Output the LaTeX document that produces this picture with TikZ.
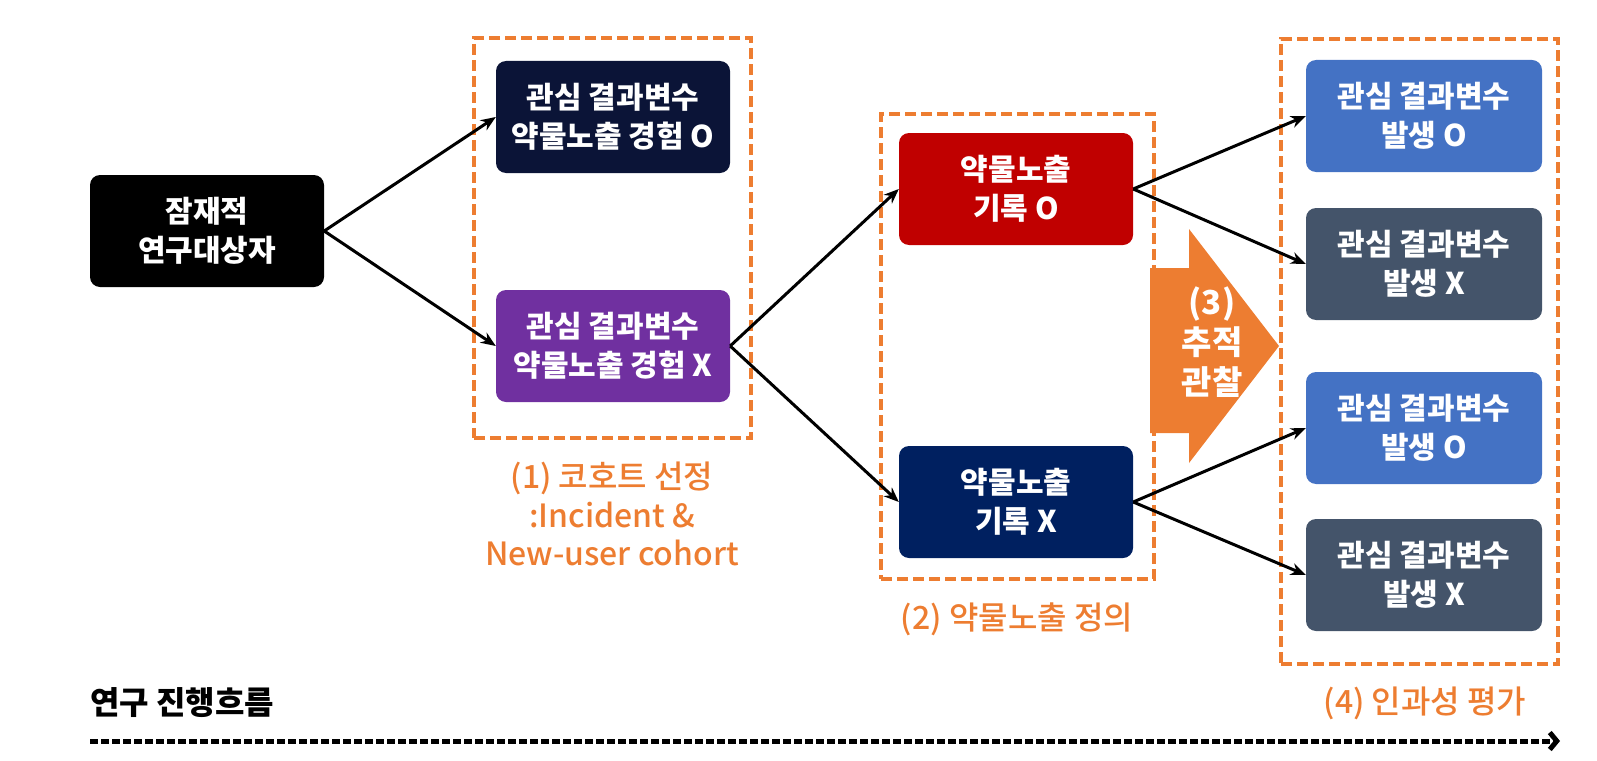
\documentclass[tikz,border=0pt]{standalone}
\usepackage{fontspec}
\setmainfont{Noto Sans CJK KR}
\newfontfamily\krmedium{Noto Sans CJK KR}[UprightFont={* Medium}]
\usetikzlibrary{arrows.meta}
\definecolor{colCohortO}{HTML}{0B1437}
\definecolor{colCohortX}{HTML}{7030A0}
\definecolor{colExpO}{HTML}{C00000}
\definecolor{colExpX}{HTML}{002060}
\definecolor{colOutO}{HTML}{4472C4}
\definecolor{colOutX}{HTML}{44546A}
\definecolor{accent}{HTML}{ED7D31}
\begin{document}
\begin{tikzpicture}[x=1pt,y=-1pt,
        box/.style={rounded corners=10pt,inner sep=0pt,minimum height=112pt,minimum width=234pt,text=white,align=center,font=\bfseries\fontsize{30}{39}\selectfont},
        groupframe/.style={draw=accent,line width=4.5pt,dash pattern=on 11pt off 5pt,inner sep=0pt},
        grouptext/.style={text=accent,align=center,font=\krmedium\fontsize{32}{38.5}\selectfont},
        edge/.style={-{Stealth[length=15pt,width=12pt]},line width=3pt},
    ]
    \useasboundingbox (0,0) rectangle (1597,760);

    \node[box,fill=black] (subjects) at (207,231) {잠재적\\연구대상자};
    \node[box,fill=colCohortO] (cohortO) at (613,117) {관심 결과변수\\약물노출 경험 O};
    \node[box,fill=colCohortX] (cohortX) at (613,346) {관심 결과변수\\약물노출 경험 X};
    \node[box,fill=colExpO] (expO) at (1016,189) {약물노출\\기록 O};
    \node[box,fill=colExpX] (expX) at (1016,502) {약물노출\\기록 X};
    \node[box,fill=colOutO,minimum width=236pt] (outOO) at (1424,116) {관심 결과변수\\발생 O};
    \node[box,fill=colOutX,minimum width=236pt] (outOX) at (1424,264) {관심 결과변수\\발생 X};
    \node[box,fill=colOutO,minimum width=236pt] (outXO) at (1424,428) {관심 결과변수\\발생 O};
    \node[box,fill=colOutX,minimum width=236pt] (outXX) at (1424,575) {관심 결과변수\\발생 X};

    %follow-up arrow
    \fill[accent] (1150,268) -- (1189,268) -- (1189,229) -- (1279,346) -- (1189,463) -- (1189,433) -- (1150,433) -- cycle;
    \node[text=white,align=center,font=\bfseries\fontsize{33}{40}\selectfont] (step3) at (1212,342) {(3)\\추적\\관찰};

    %groups
    \node[groupframe,minimum width=277pt,minimum height=400pt] (grp1) at (612.5,238) {};
    \node[groupframe,minimum width=273pt,minimum height=465pt] (grp2) at (1017.5,346.5) {};
    \node[groupframe,minimum width=277pt,minimum height=625pt] (grp4) at (1419.5,351.5) {};
    \node[grouptext] (step1) at (612,514) {(1) 코호트 선정\\:Incident \&\\New-user cohort};
    \node[grouptext] (step2) at (1017,619) {(2) 약물노출 정의};
    \node[grouptext] (step4) at (1425,703) {(4) 인과성 평가};

    %branches
    \draw[edge] (subjects.east) -- (cohortO.west);
    \draw[edge] (subjects.east) -- (cohortX.west);
    \draw[edge] (cohortX.east) -- (expO.west);
    \draw[edge] (cohortX.east) -- (expX.west);
    \draw[edge] (expO.east) -- (outOO.west);
    \draw[edge] (expO.east) -- (outOX.west);
    \draw[edge] (expX.east) -- (outXO.west);
    \draw[edge] (expX.east) -- (outXX.west);

    %study flow
    \node[anchor=west,inner sep=0pt,font=\bfseries\fontsize{32}{38}\selectfont] (flow) at (90,703) {연구 진행흐름};
    \coordinate (flowstart) at (90,741);
    \coordinate (flowend) at (1560,741);
    \draw[line width=5pt,dash pattern=on 8pt off 3pt,-{Straight Barb[length=7pt,width=17pt]}] (flowstart) -- (flowend);
\end{tikzpicture}
\end{document}
